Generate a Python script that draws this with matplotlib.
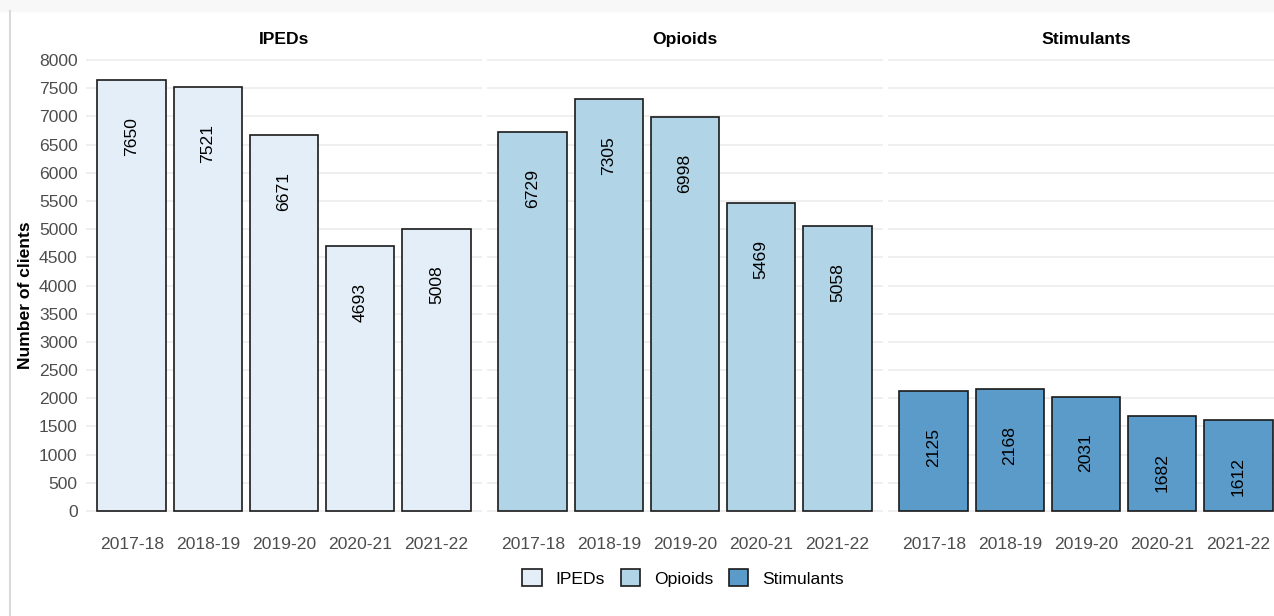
import matplotlib.pyplot as plt
from matplotlib.patches import Patch

plt.rcParams['font.family'] = ['Liberation Sans', 'DejaVu Sans']

groups = ['IPEDs', 'Opioids', 'Stimulants']
years = ['2017-18', '2018-19', '2019-20', '2020-21', '2021-22']
ipeds = [7650, 7521, 6671, 4693, 5008]
opioids = [6729, 7305, 6998, 5469, 5058]
stimulants = [2125, 2168, 2031, 1682, 1612]
values = [ipeds, opioids, stimulants]
colors = ['#e4eef8', '#b1d4e7', '#5a9bca']

W, H = 1274, 616
fig = plt.figure(figsize=(W / 100, H / 100), dpi=100)

# screenshot frame: light top strip and a thin line on the left
fig.patches.append(plt.Rectangle((0, (H - 11) / H), 1, 11 / H, transform=fig.transFigure,
                                 color='#f8f8f8', zorder=0))
fig.add_artist(plt.Line2D([9.5 / W, 9.5 / W], [0, (H - 11) / H], color='#d9d9d9', lw=1.5))

ymin, ymax = -382.5, 8032.5
top_px, bot_px = 58.2, 532.6
panel_w = 396
lefts = [86, 487, 888]
grey = '#4d4d4d'
fs = 12.6

for i, (grp, vals) in enumerate(zip(groups, values)):
    ax = fig.add_axes([lefts[i] / W, (H - bot_px) / H, panel_w / W, (bot_px - top_px) / H])
    x = list(range(1, len(years) + 1))
    ax.bar(x, vals, width=0.9, color=colors[i], edgecolor='#1a1a1a', linewidth=1.2, zorder=3)
    for xi, v in zip(x, vals):
        ax.text(xi, v - 1000, str(v), rotation=90, ha='center', va='center', fontsize=fs,
                color='black', zorder=4)
    ax.set_xlim(0.4, 5.6)
    ax.set_ylim(ymin, ymax)
    ax.set_yticks(range(0, 8001, 500))
    ax.grid(axis='y', color='#ebebeb', linewidth=1.1, zorder=0)
    ax.set_xticks(x)
    ax.set_xticklabels(years, fontsize=fs, color=grey)
    ax.tick_params(length=0, pad=3)
    ax.tick_params(axis='y', pad=6)
    if i == 0:
        ax.set_yticklabels([str(t) for t in range(0, 8001, 500)], fontsize=fs, color=grey)
        ax.set_ylabel('Number of clients', fontsize=fs, fontweight='bold', labelpad=4)
    else:
        ax.set_yticklabels([])
    for s in ax.spines.values():
        s.set_visible(False)
    ax.text(0.5, 1 + (top_px - 40) / (bot_px - top_px), grp, transform=ax.transAxes,
            ha='center', va='center', fontsize=fs, fontweight='bold')

handles = [Patch(facecolor=c, edgecolor='#1a1a1a', linewidth=1.2) for c in colors]
fig.legend(handles, groups, loc='center', bbox_to_anchor=(683 / W, (H - 578) / H), ncol=3,
           frameon=False, fontsize=fs, handlelength=1.1, handleheight=1.1,
           handletextpad=0.8, columnspacing=0.9)

fig.savefig('out.png', dpi=100, facecolor='white')
